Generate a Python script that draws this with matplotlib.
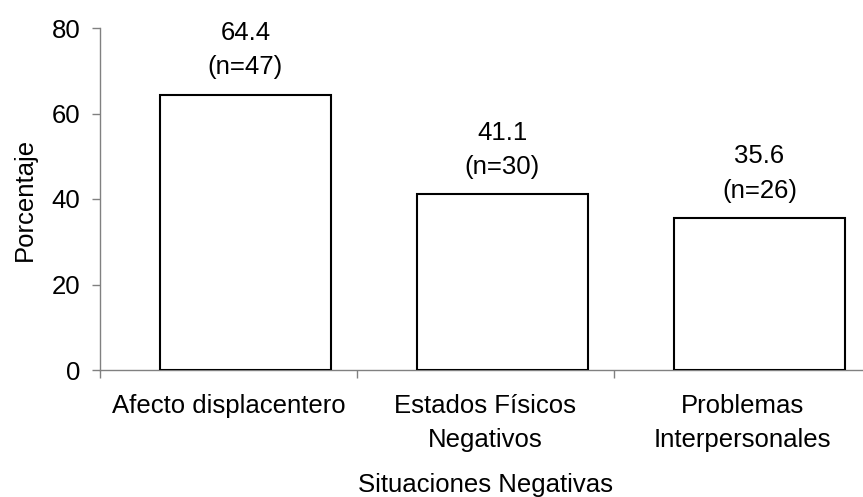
import matplotlib
matplotlib.use("Agg")
import matplotlib.pyplot as plt
import numpy as np

plt.rcParams['font.family'] = ['Liberation Sans', 'DejaVu Sans']

categories = ["Afecto displacentero", "Estados Físicos\nNegativos", "Problemas\nInterpersonales"]
percentages = [64.4, 41.1, 35.6]
counts = [47, 30, 26]
y_ticks = [0, 20, 40, 60, 80]

FS = 18.5

fig = plt.figure(figsize=(8.63, 4.97), dpi=100)
ax = fig.add_axes([100/863, (497-370)/497, 771/863, 342/497])

idx = np.arange(len(categories))
bar_x = idx + 0.5 + 0.066
ax.bar(bar_x, percentages, width=0.665, color="white", edgecolor="black", linewidth=1.5, zorder=3)

for x, p, n in zip(bar_x, percentages, counts):
    ax.annotate(f"{p:.1f}\n(n={n})", xy=(x, p), xytext=(0, 11), textcoords="offset points",
                ha="center", va="bottom", fontsize=FS, linespacing=1.55)

ax.set_xlim(0, len(categories))
ax.set_ylim(0, 80)
ax.set_yticks(y_ticks)
ax.set_xticks(np.arange(len(categories) + 1))
ax.set_xticklabels([])
ax.set_xticks(idx + 0.5, minor=True)
ax.set_xticklabels(categories, minor=True, fontsize=FS, linespacing=1.55)
ax.tick_params(axis="x", which="minor", length=0, pad=17)
ax.tick_params(axis="x", which="major", length=6, width=1, color="#808080", direction="out")
ax.tick_params(axis="y", length=6, width=1, color="#808080", direction="out", labelsize=FS, pad=8)

for s in ["top", "right"]:
    ax.spines[s].set_visible(False)
for s in ["left", "bottom"]:
    ax.spines[s].set_color("#808080")
    ax.spines[s].set_linewidth(1)

ax.set_ylabel("Porcentaje", fontsize=FS, labelpad=11)
ax.set_xlabel("Situaciones Negativas", fontsize=FS, labelpad=15)

fig.savefig("out.png", dpi=100)
